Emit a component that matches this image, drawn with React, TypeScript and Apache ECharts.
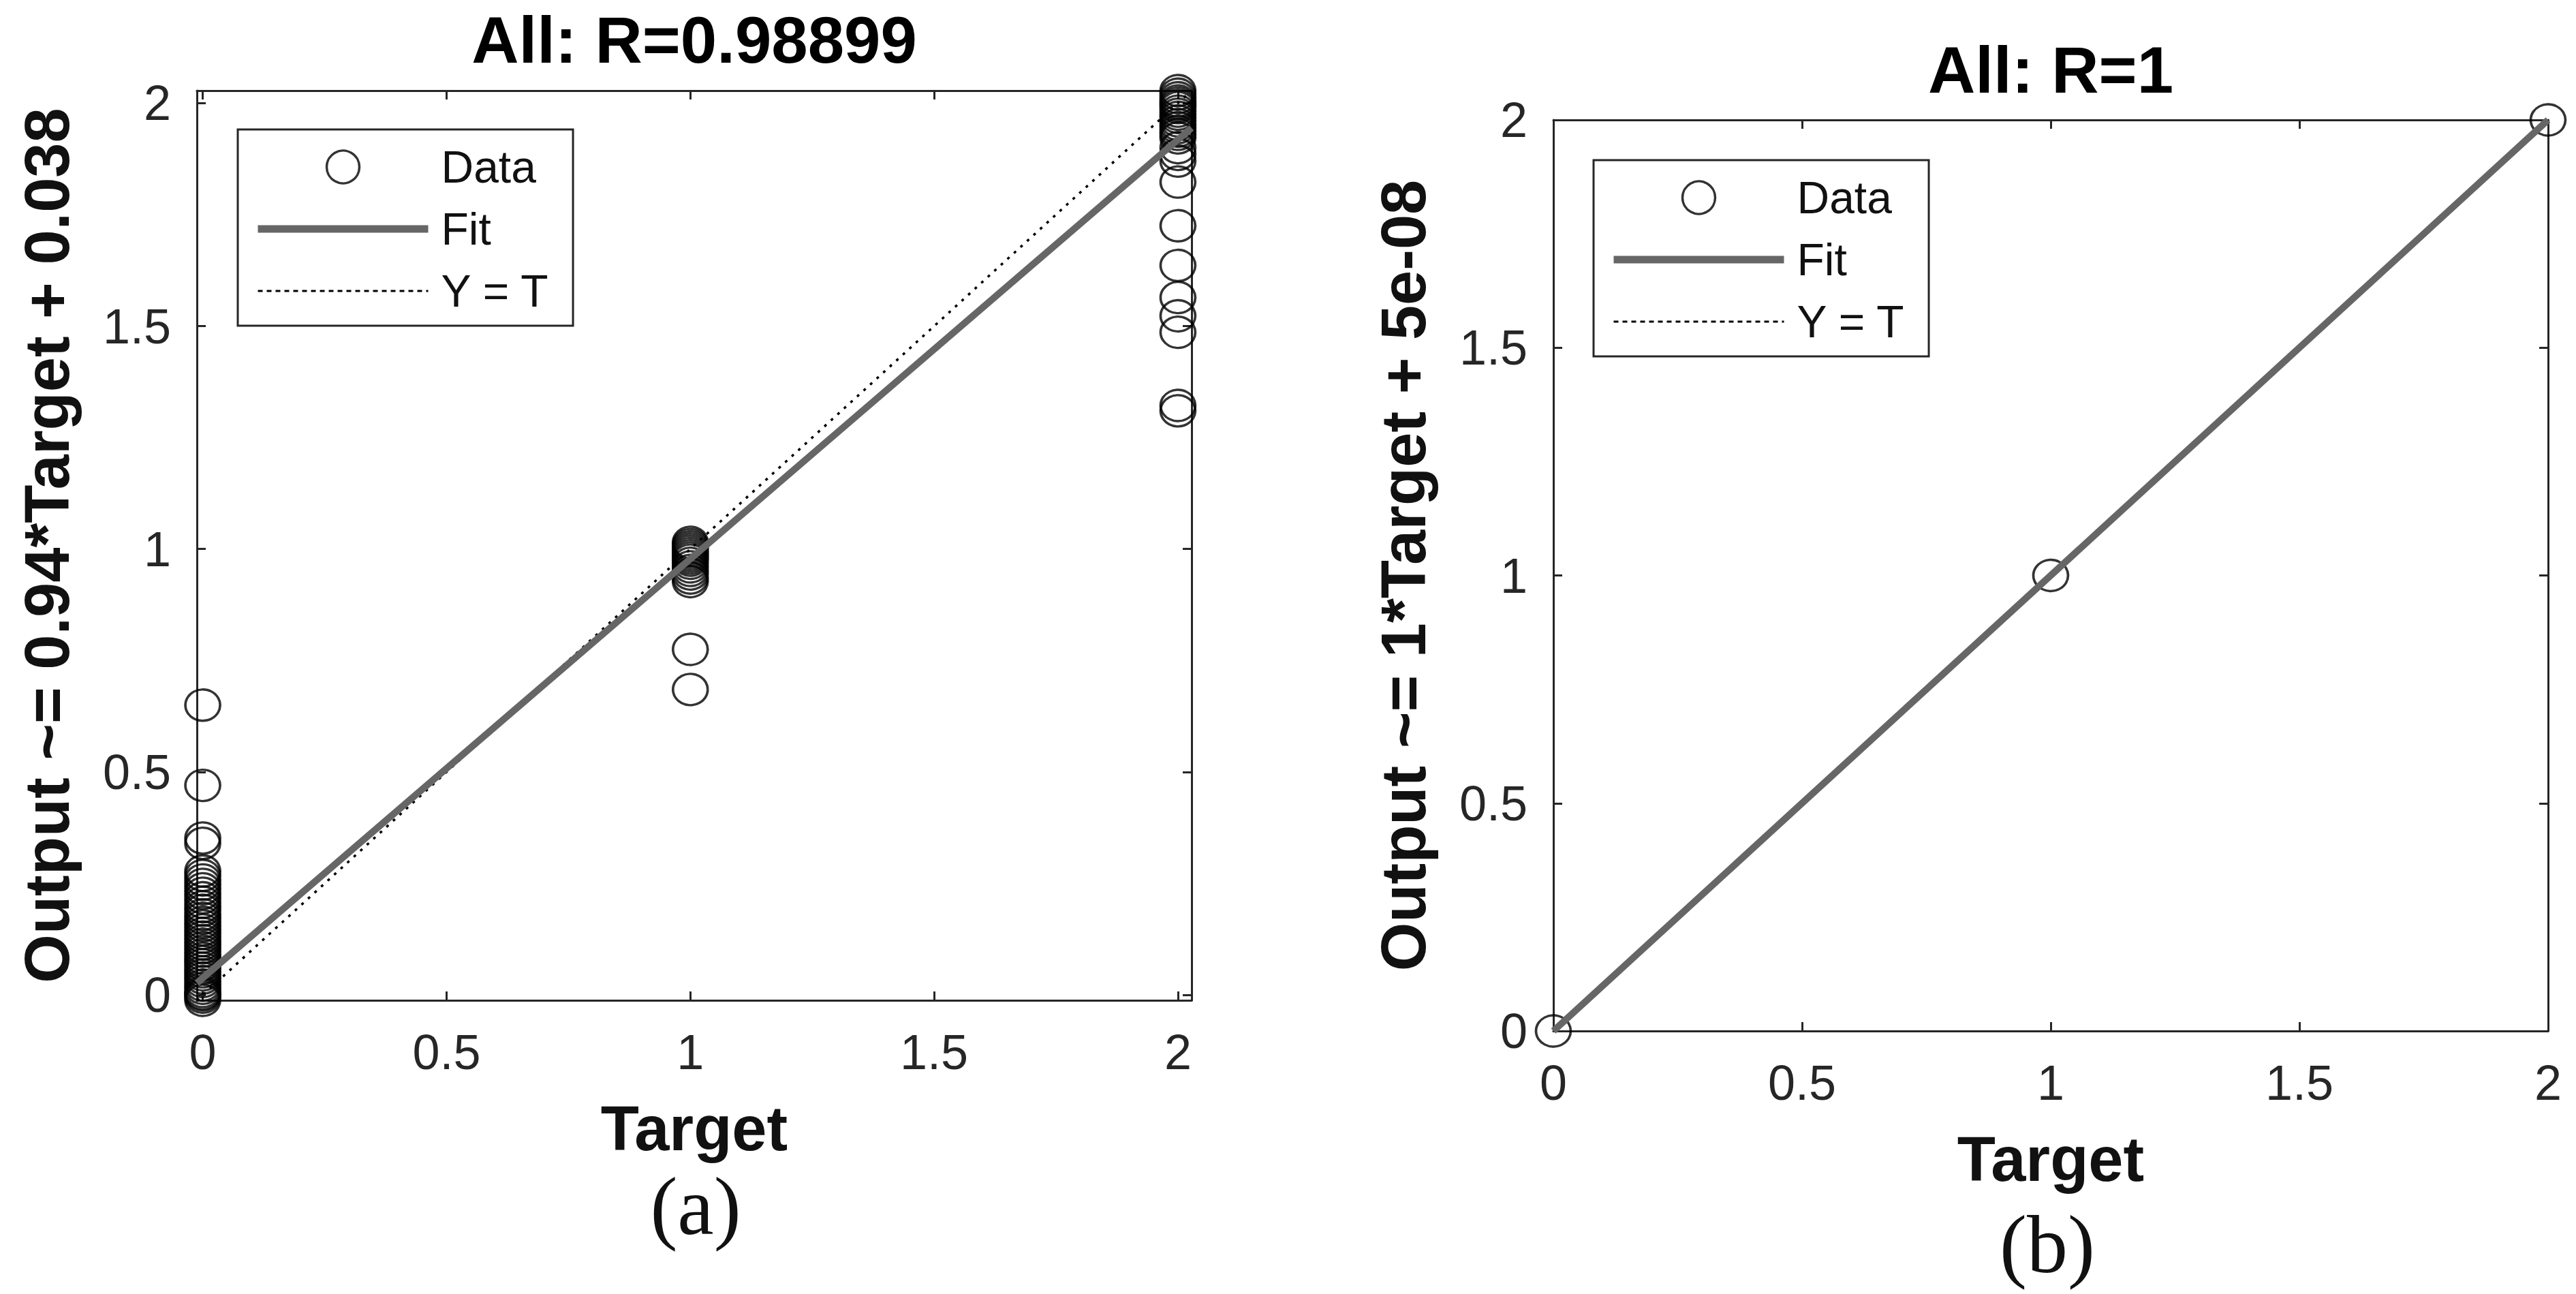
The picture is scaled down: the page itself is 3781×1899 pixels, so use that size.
import React, { useEffect, useRef } from 'react';
import * as echarts from 'echarts';

// ---------------- data ----------------
const tickValues = [0, 0.5, 1, 1.5, 2];
const tickLabels = ['0', '0.5', '1', '1.5', '2'];

// panel (a)
const limitsA = [-0.012, 2.028];
const outputsAtTarget0A = [
  0.65, 0.47, 0.352, 0.34, 0.278, 0.268, 0.258, 0.248, 0.238, 0.228, 0.218, 0.208, 0.198,
  0.19, 0.18, 0.172, 0.163, 0.155, 0.146, 0.138, 0.13, 0.122, 0.114, 0.106, 0.098, 0.09,
  0.082, 0.075, 0.068, 0.06, 0.052, 0.045, 0.038, 0.03, 0.022, 0.015, 0.008, 0.003, 0,
  -0.005, -0.012,
];
const outputsAtTarget1A = [
  1.015, 1.01, 1.005, 1.0, 0.995, 0.99, 0.985, 0.98, 0.975, 0.968, 0.96, 0.952, 0.944,
  0.935, 0.927, 0.775, 0.685,
];
const outputsAtTarget2A = [
  2.028, 2.02, 2.012, 2.005, 2.0, 1.995, 1.99, 1.982, 1.975, 1.968, 1.96, 1.952, 1.945,
  1.937, 1.93, 1.922, 1.9, 1.885, 1.87, 1.823, 1.725, 1.636, 1.564, 1.523, 1.486, 1.322,
  1.31,
];
const fitSlopeA = 0.94;
const fitInterceptA = 0.038;

// panel (b)
const limitsB = [0, 2];
const targetsB = [0, 1, 2];
const outputsB = [0, 1, 2];
const fitSlopeB = 1;
const fitInterceptB = 5e-8;

const titleA = 'All: R=0.98899';
const titleB = 'All: R=1';
const yNameA = 'Output ~= 0.94*Target + 0.038';
const yNameB = 'Output ~= 1*Target + 5e-08';
const xName = 'Target';
const captionA = '(a)';
const captionB = '(b)';
const legendNames = ['Data', 'Fit', 'Y = T'];

// ---------------- styling ----------------
const SANS = '"Liberation Sans", Arial, Helvetica, sans-serif';
const SERIF = '"Liberation Serif", "Times New Roman", serif';
const AXIS_COLOR = '#262626';
const FIT_COLOR = '#666666';
const HIDDEN_SYMBOL = { color: 'rgba(0,0,0,0)', borderColor: 'rgba(0,0,0,0)', borderWidth: 0, opacity: 0 };

function valueAxis(
  gridIndex: number,
  lim: number[],
  position: string,
  withLabels: boolean,
  name?: string,
  nameGap?: number
) {
  return {
    type: 'value',
    gridIndex,
    position,
    min: lim[0],
    max: lim[1],
    scale: true,
    axisLine: { show: true, onZero: false, lineStyle: { color: AXIS_COLOR, width: 3 } },
    axisTick: {
      show: true,
      inside: true,
      length: 13,
      customValues: tickValues,
      lineStyle: { color: AXIS_COLOR, width: 3 },
    },
    axisLabel: {
      show: withLabels,
      customValues: tickValues,
      formatter: (v: number) => tickLabels[tickValues.indexOf(v)] ?? String(v),
      margin: position === 'bottom' ? 40 : 38,
      fontSize: 72,
      fontFamily: SANS,
      color: AXIS_COLOR,
    },
    splitLine: { show: false },
    name: name ?? '',
    nameLocation: 'middle',
    nameGap: nameGap ?? 0,
    nameTextStyle: {
      fontSize: 92,
      fontWeight: 'bold',
      fontFamily: SANS,
      color: '#111111',
    },
  };
}

function legendFor(left: number, top: number, names: string[]) {
  return {
    show: true,
    orient: 'vertical',
    left,
    top,
    padding: [20, 34, 16, 24],
    itemWidth: 250,
    itemHeight: 48,
    itemGap: 21,
    borderColor: AXIS_COLOR,
    borderWidth: 3,
    backgroundColor: '#ffffff',
    selectedMode: false,
    textStyle: {
      fontSize: 66,
      fontFamily: SANS,
      color: '#111111',
      lineHeight: 70,
      padding: [0, 0, 0, 14],
    },
    data: [
      {
        name: names[0],
        icon: 'circle',
        itemStyle: { color: 'rgba(0,0,0,0)', borderColor: '#000', borderWidth: 3.5 },
      },
      { name: names[1], itemStyle: HIDDEN_SYMBOL, lineStyle: { color: FIT_COLOR, width: 11 } },
      { name: names[2], itemStyle: HIDDEN_SYMBOL, lineStyle: { color: '#000', width: 3, type: [7, 6] } },
    ],
  };
}

function seriesFor(index: number, scatter: number[][], lim: number[], slope: number, intercept: number) {
  const fitLine = lim.map((x) => [x, slope * x + intercept]);
  const identity = lim.map((x) => [x, x]);
  return [
    {
      name: legendNames[0],
      type: 'scatter',
      xAxisIndex: index * 2,
      yAxisIndex: index * 2,
      data: scatter,
      symbol: 'circle',
      symbolSize: [51, 46],
      clip: false,
      silent: true,
      itemStyle: { color: 'rgba(0,0,0,0)', borderColor: '#000', borderWidth: 3.5 },
      emphasis: { disabled: true },
      z: 2,
    },
    {
      name: legendNames[1],
      type: 'line',
      xAxisIndex: index * 2,
      yAxisIndex: index * 2,
      data: fitLine,
      symbol: 'none',
      silent: true,
      itemStyle: { color: FIT_COLOR },
      lineStyle: { color: FIT_COLOR, width: 10 },
      emphasis: { disabled: true },
      z: 4,
    },
    {
      name: legendNames[2],
      type: 'line',
      xAxisIndex: index * 2,
      yAxisIndex: index * 2,
      data: identity,
      symbol: 'none',
      silent: true,
      itemStyle: { color: '#000' },
      lineStyle: { color: '#000', width: 3.5, type: [4, 9] },
      emphasis: { disabled: true },
      z: 3,
    },
  ];
}

export default function App() {
  const ref = useRef<HTMLDivElement | null>(null);

  useEffect(() => {
    if (!ref.current) return;
    const chart = echarts.init(ref.current, undefined, { renderer: 'svg' });

    const scatterA = [
      ...outputsAtTarget0A.map((v) => [0, v]),
      ...outputsAtTarget1A.map((v) => [1, v]),
      ...outputsAtTarget2A.map((v) => [2, v]),
    ];
    const scatterB = targetsB.map((t, i) => [t, outputsB[i]]);

    const titleStyle = { fontSize: 96, fontWeight: 'bold', fontFamily: SANS, color: '#000' };
    const captionStyle = { fontSize: 120, fontWeight: 'normal', fontFamily: SERIF, color: '#111111' };

    const option = {
      animation: false,
      backgroundColor: '#ffffff',
      title: [
        { text: titleA, left: 1019, top: 10, textAlign: 'center', padding: 0, textStyle: titleStyle },
        { text: titleB, left: 3010, top: 54, textAlign: 'center', padding: 0, textStyle: titleStyle },
        { text: captionA, left: 1021, top: 1710, textAlign: 'center', padding: 0, textStyle: captionStyle },
        { text: captionB, left: 3005, top: 1766, textAlign: 'center', padding: 0, textStyle: captionStyle },
      ],
      grid: [
        { left: 289, top: 133, width: 1460, height: 1335, show: false },
        { left: 2280, top: 176, width: 1460, height: 1337, show: false },
      ],
      xAxis: [
        valueAxis(0, limitsA, 'bottom', true, xName, 142),
        valueAxis(0, limitsA, 'top', false),
        valueAxis(1, limitsB, 'bottom', true, xName, 142),
        valueAxis(1, limitsB, 'top', false),
      ],
      yAxis: [
        valueAxis(0, limitsA, 'left', true, yNameA, 174),
        valueAxis(0, limitsA, 'right', false),
        valueAxis(1, limitsB, 'left', true, yNameB, 174),
        valueAxis(1, limitsB, 'right', false),
      ],
      legend: [legendFor(349, 190, legendNames), legendFor(2339, 235, legendNames)],
      series: [
        ...seriesFor(0, scatterA, limitsA, fitSlopeA, fitInterceptA),
        ...seriesFor(1, scatterB, limitsB, fitSlopeB, fitInterceptB),
      ],
    };

    chart.setOption(option as any);
    return () => chart.dispose();
  }, []);

  return (
    <div
      ref={ref}
      style={{ position: 'absolute', left: 0, top: 0, width: '3781px', height: '1899px', background: '#fff' }}
    />
  );
}
